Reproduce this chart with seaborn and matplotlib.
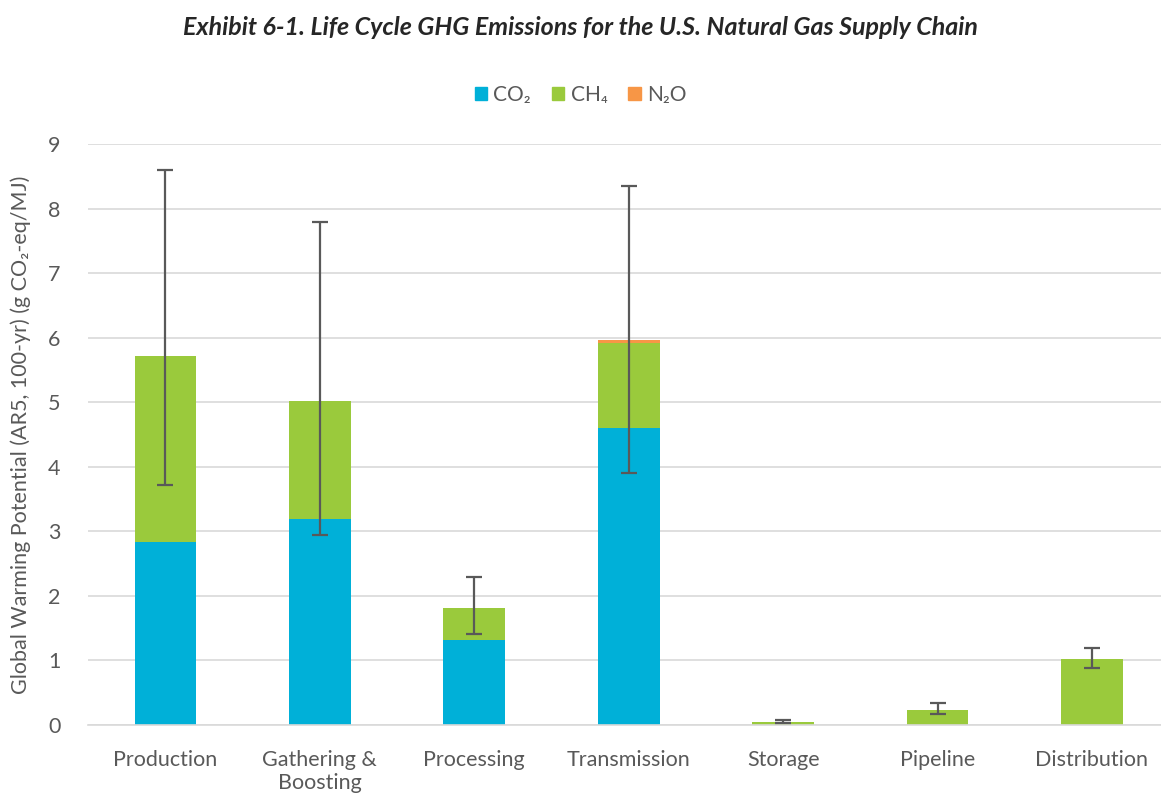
import numpy as np
import pandas as pd
import matplotlib
matplotlib.use("Agg")
import matplotlib.pyplot as plt
from matplotlib.patches import Patch
import seaborn as sns

stages = ["Production", "Gathering &\nBoosting", "Processing", "Transmission",
          "Storage", "Pipeline", "Distribution"]
co2 = [2.83, 3.19, 1.32, 4.60, 0.0, 0.0, 0.0]
ch4 = [2.89, 1.83, 0.49, 1.32, 0.05, 0.23, 1.02]
n2o = [0.0, 0.0, 0.0, 0.04, 0.0, 0.0, 0.0]
err_low = [3.72, 2.94, 1.41, 3.90, 0.03, 0.17, 0.88]
err_high = [8.60, 7.79, 2.29, 8.36, 0.08, 0.34, 1.19]

c_co2 = "#00B0D8"
c_ch4 = "#9ACA3C"
c_n2o = "#F79646"

sns.set_theme(style="white")
plt.rcParams["font.family"] = ["Lato", "DejaVu Sans"]

df = pd.DataFrame({"stage": stages, "co2": co2, "ch4": ch4, "n2o": n2o})
df["total"] = df.co2 + df.ch4 + df.n2o

fig, ax = plt.subplots(figsize=(11.61, 7.93), dpi=100)
# axes run slightly past the right edge, like the original
fig.subplots_adjust(left=0.076, right=1.007, top=0.818, bottom=0.086)

bar_kw = dict(width=0.4, ax=ax, saturation=1, zorder=2, linewidth=0)
sns.barplot(data=df, x="stage", y="co2", color=c_co2, **bar_kw)
sns.barplot(data=df, x="stage", y="ch4", bottom=df.co2, color=c_ch4, **bar_kw)
sns.barplot(data=df, x="stage", y="n2o", bottom=df.co2 + df.ch4, color=c_n2o, **bar_kw)

x = np.arange(len(stages))
lo = df.total - np.array(err_low)
hi = np.array(err_high) - df.total
ax.errorbar(x, df.total, yerr=[lo, hi], fmt="none", ecolor="#595959",
            elinewidth=1.6, capsize=6, capthick=1.6, zorder=3)

ax.set_ylim(0, 9)
ax.set_yticks(range(0, 10))
ax.set_xlim(-0.5, len(stages) - 0.5)
ax.yaxis.grid(True, color="#D9D9D9", linewidth=1.2, zorder=0)
ax.set_axisbelow(True)
for s in ["top", "right", "left"]:
    ax.spines[s].set_visible(False)
ax.spines["bottom"].set_color("#D9D9D9")
ax.spines["bottom"].set_linewidth(1.2)
ax.tick_params(axis="both", length=0, labelsize=15.5, colors="#595959")
ax.tick_params(axis="x", pad=18)
ax.tick_params(axis="y", pad=20)
ax.set_xlabel("")
ax.set_ylabel("Global Warming Potential (AR5, 100-yr) (g CO₂-eq/MJ)",
              fontsize=15.5, color="#595959", labelpad=12)

handles = [Patch(color=c_co2, label="CO₂"), Patch(color=c_ch4, label="CH₄"),
           Patch(color=c_n2o, label="N₂O")]
fig.legend(handles=handles, loc="center", bbox_to_anchor=(0.5, 0.88), ncol=3,
           frameon=False, fontsize=15, handlelength=0.6, handleheight=0.6,
           handletextpad=0.3, columnspacing=1.0, labelcolor="#595959")

fig.suptitle("Exhibit 6-1. Life Cycle GHG Emissions for the U.S. Natural Gas Supply Chain",
             fontsize=18, fontweight="bold", fontstyle="italic", y=0.98)

fig.savefig("out.png", dpi=100)
